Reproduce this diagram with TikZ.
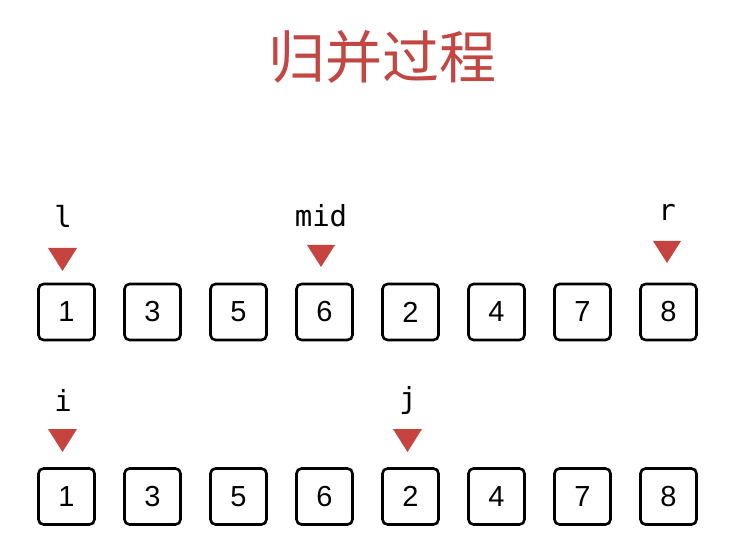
\documentclass[tikz,border=0pt]{standalone}
\usepackage{fontspec}
\setmainfont{Liberation Sans}
\newfontfamily\cjk{Noto Sans CJK SC}
\newfontfamily\monof{DejaVu Sans Mono}
\definecolor{titlered}{RGB}{194,70,66}
\definecolor{trired}{RGB}{198,68,64}
\tikzset{
  cell/.style={draw=black, line width=2.6pt, rounded corners=5pt, minimum width=56pt, minimum height=56pt, inner sep=0pt, font=\fontsize{29}{29}\selectfont},
  ptr/.style={fill=trired, draw=none},
  plabel/.style={font=\monof\fontsize{29}{29}\selectfont, inner sep=0pt},
}
\begin{document}
\begin{tikzpicture}[x=1pt,y=-1pt]
\useasboundingbox (0,0) rectangle (750,556);
\fill[white] (0,0) rectangle (750,556);
\node[font=\cjk\fontsize{57}{57}\selectfont, text=titlered] (title) at (382,57) {归并过程};
% rows of cells
\foreach \v [count=\k from 0] in {1,3,5,6,2,4,7,8} {
  \node[cell] (a\k) at (66.5+86*\k,312) {\v};
  \node[cell] (b\k) at (66.5+86*\k,496.5) {\v};
}
% pointers row 1
\node[plabel] (ll) at (63,216) {l};
\fill[ptr] (48,248) -- (77,248) -- (62.5,271) -- cycle;
\node[plabel] (lmid) at (321,216) {mid};
\fill[ptr] (307,245) -- (335,245) -- (321,267) -- cycle;
\node[plabel] (lr) at (667,212) {r};
\fill[ptr] (653,241) -- (681,241) -- (667,263) -- cycle;
% pointers row 2
\node[plabel] (li) at (63,400) {i};
\fill[ptr] (48,429) -- (77,429) -- (62.5,452) -- cycle;
\node[plabel] (lj) at (408,400) {j};
\fill[ptr] (393,429) -- (422,429) -- (407.5,452) -- cycle;
\end{tikzpicture}
\end{document}
